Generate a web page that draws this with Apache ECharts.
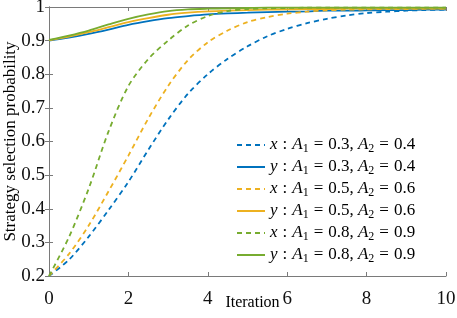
<!DOCTYPE html>
<html>
<head>
<meta charset="utf-8">
<script src="https://cdn.jsdelivr.net/npm/echarts@6/dist/echarts.min.js"></script>
<style>
html, body { margin: 0; padding: 0; background: #fff; }
#main { width: 457px; height: 318px; }
</style>
</head>
<body>
<div id="main"></div>
<script>
// iterations (step 0.5)
let iter = [0,0.5,1,1.5,2,2.5,3,3.5,4,4.5,5,5.5,6,6.5,7,7.5,8,8.5,9,9.5,10];

// A1=0.3, A2=0.4
let xBlue = [0.200,0.248,0.317,0.396,0.480,0.575,0.665,0.742,0.800,0.846,0.883,0.913,0.935,0.952,0.965,0.975,0.982,0.986,0.989,0.991,0.992];
let yBlue = [0.900,0.909,0.920,0.933,0.947,0.958,0.967,0.973,0.978,0.981,0.983,0.985,0.986,0.987,0.989,0.989,0.990,0.991,0.991,0.992,0.992];
// A1=0.5, A2=0.6
let xOrange = [0.200,0.265,0.350,0.452,0.558,0.668,0.765,0.842,0.895,0.930,0.955,0.970,0.980,0.986,0.990,0.992,0.993,0.994,0.994,0.995,0.995];
let yOrange = [0.901,0.912,0.925,0.940,0.955,0.967,0.977,0.983,0.987,0.989,0.991,0.992,0.993,0.994,0.994,0.995,0.995,0.995,0.995,0.995,0.995];
// A1=0.8, A2=0.9
let xGreen = [0.200,0.315,0.460,0.630,0.765,0.845,0.900,0.945,0.973,0.988,0.994,0.996,0.997,0.998,0.998,0.998,0.998,0.998,0.998,0.998,0.998];
let yGreen = [0.902,0.915,0.930,0.948,0.965,0.978,0.988,0.993,0.995,0.996,0.997,0.998,0.998,0.998,0.998,0.998,0.998,0.998,0.998,0.998,0.998];

let names = ['x1','y1','x2','y2','x3','y3'];
let varName = ['x','y','x','y','x','y'];
let a1 = ['0.3','0.3','0.5','0.5','0.8','0.8'];
let a2 = ['0.4','0.4','0.6','0.6','0.9','0.9'];
let colors = ['#0072BD','#0072BD','#EDB120','#EDB120','#77AC30','#77AC30'];
let allData = [xBlue, yBlue, xOrange, yOrange, xGreen, yGreen];

let serif = '"Liberation Serif", "DejaVu Serif", serif';
let axisColor = '#7a7a7a';

let series = [];
for (let i = 0; i < names.length; i++) {
    let pts = [];
    for (let j = 0; j < iter.length; j++) {
        pts.push([iter[j], allData[i][j]]);
    }
    series.push({
        name: names[i],
        type: 'line',
        data: pts,
        smooth: 0.3,
        symbol: 'none',
        showSymbol: false,
        color: colors[i],
        lineStyle: {
            width: 1.8,
            type: (i % 2 == 0) ? [5, 4] : 'solid'
        },
        z: 2 + i
    });
}

var myChart = echarts.init(document.getElementById('main'));
var option = {
    animation: false,
    grid: { left: 49, right: 11, top: 7, bottom: 42, outerBoundsMode: 'none' },
    xAxis: [{
        type: 'value', min: 0, max: 10, interval: 2,
        name: 'Iteration', nameLocation: 'middle', nameGap: 19, nameMoveOverlap: false,
        nameTextStyle: { fontFamily: serif, fontSize: 16, color: '#000', padding: [0, 0, 0, 10] },
        axisLine: { lineStyle: { color: axisColor } },
        axisTick: { inside: true, length: 4, lineStyle: { color: axisColor } },
        axisLabel: { fontFamily: serif, fontSize: 19, color: '#111', margin: 14 },
        splitLine: { show: false }
    }, {
        type: 'value', min: 0, max: 10, interval: 2, position: 'top',
        axisLine: { lineStyle: { color: axisColor } },
        axisTick: { inside: true, length: 4, lineStyle: { color: axisColor } },
        axisLabel: { show: false },
        splitLine: { show: false }
    }],
    yAxis: [{
        type: 'value', min: 0.2, max: 1, interval: 0.1,
        name: 'Strategy selection probability', nameLocation: 'middle', nameGap: 30, nameMoveOverlap: false,
        nameTextStyle: { fontFamily: serif, fontSize: 17, color: '#000' },
        axisLine: { show: true, lineStyle: { color: axisColor } },
        axisTick: { show: true, inside: true, length: 4, lineStyle: { color: axisColor } },
        axisLabel: { fontFamily: serif, fontSize: 19, color: '#111', margin: 4 },
        splitLine: { show: false }
    }, {
        type: 'value', min: 0.2, max: 1, interval: 0.1, position: 'right',
        axisLine: { show: true, lineStyle: { color: axisColor } },
        axisTick: { show: true, inside: true, length: 4, lineStyle: { color: axisColor } },
        axisLabel: { show: false },
        splitLine: { show: false }
    }],
    legend: {
        orient: 'vertical',
        left: 232,
        top: 131,
        padding: [4, 4, 4, 4],
        backgroundColor: '#fff',
        itemWidth: 28,
        itemHeight: 14,
        itemGap: 2,
        itemStyle: { opacity: 0 },
        data: names,
        formatter: function (name) {
            let i = names.indexOf(name);
            return '{v|' + varName[i] + '}{op|:}{v|A}{s|1}{op|=}{n|' + a1[i] + ',}{sp| }{v|A}{s|2}{op|=}{n|' + a2[i] + '}';
        },
        textStyle: {
            color: '#000',
            fontFamily: serif,
            fontSize: 17,
            lineHeight: 20,
            rich: {
                v: { fontFamily: serif, fontStyle: 'italic', fontSize: 17, lineHeight: 20, color: '#000' },
                n: { fontFamily: serif, fontSize: 17, lineHeight: 20, color: '#000' },
                op: { fontFamily: serif, fontSize: 17, lineHeight: 20, color: '#000', padding: [0, 5, 0, 5] },
                sp: { fontFamily: serif, fontSize: 17, lineHeight: 20, color: '#000', padding: [0, 0, 0, 0] },
                s: { fontFamily: serif, fontSize: 12, lineHeight: 14, verticalAlign: 'bottom', color: '#000' }
            }
        }
    },
    series: series
};
myChart.setOption(option);
</script>
</body>
</html>
